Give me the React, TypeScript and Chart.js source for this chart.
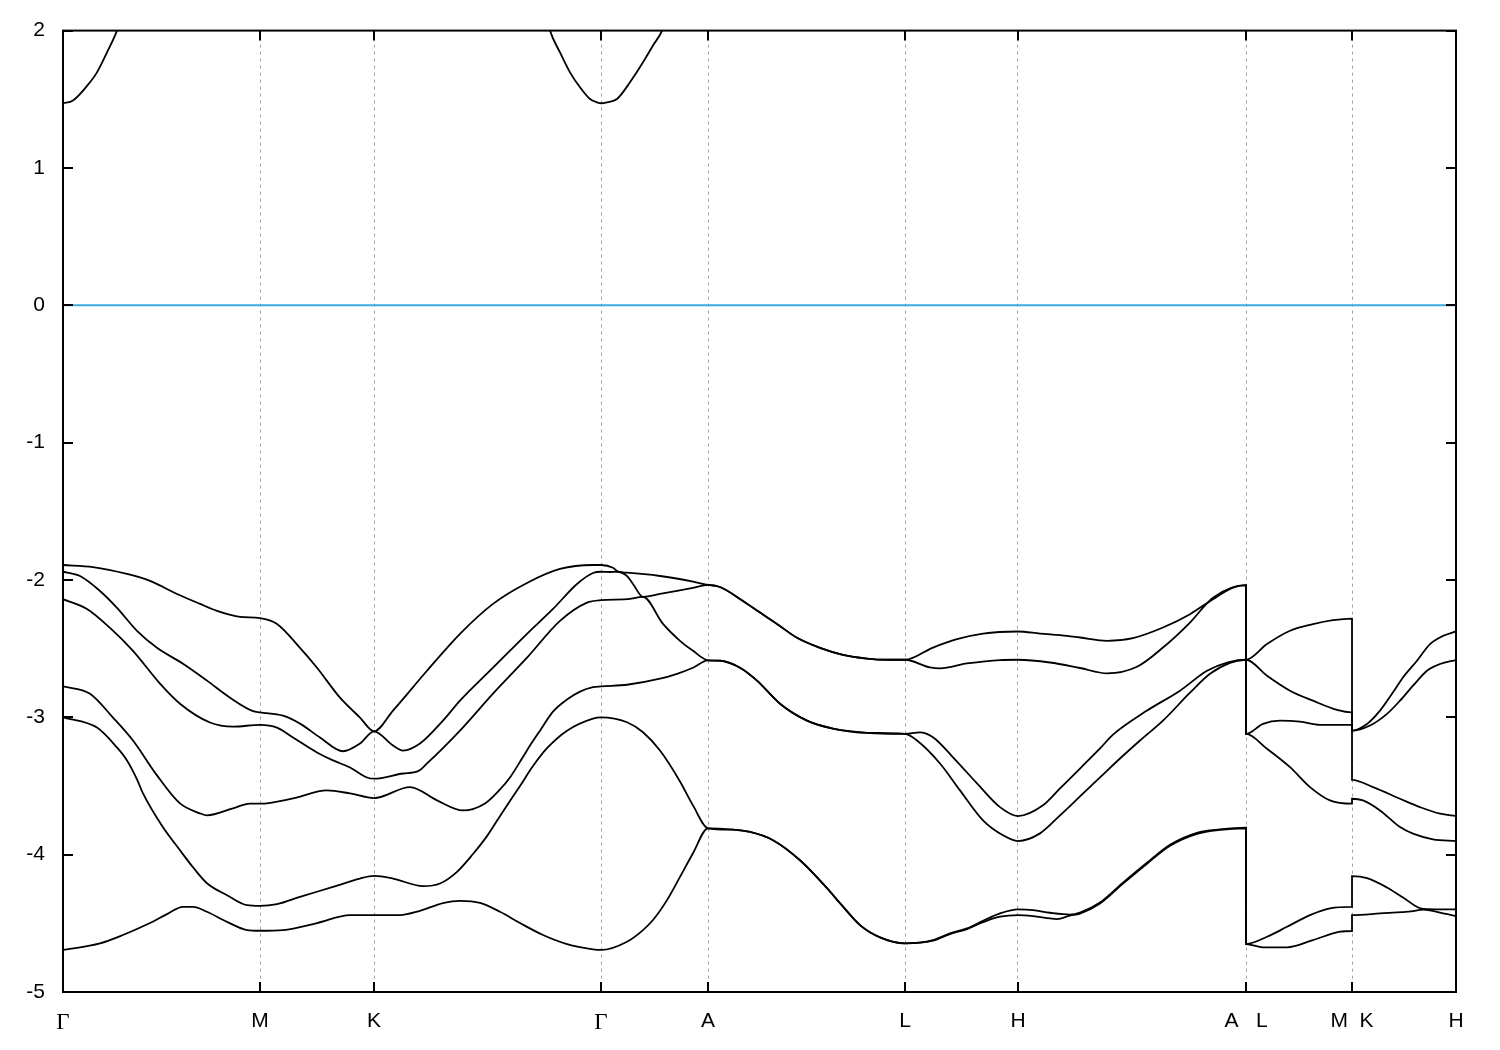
import React, { useEffect, useRef } from 'react';
import { Chart, registerables } from 'chart.js';

Chart.register(...registerables);

// High-symmetry points along the k-path (path distance units)
const kTicks = [0, 197, 311, 538, 645, 842, 955, 1183, 1289, 1393];
const kLabels = ['Γ', 'M', 'K', 'Γ', 'A', 'L', 'H', 'A   L', 'M  K', 'H'];

// Energy axis (eV)
const eMin = -5;
const eMax = 2;
const eStep = 1;

// Band 1 (lowest)
const b1K = [0, 37, 60, 87, 104, 120, 130, 144, 164, 184, 197,
  220, 254, 287, 311,
  337, 357, 380, 397, 417, 437, 457, 480, 504, 530, 538,
  564, 580, 590, 604, 617, 630, 645,
  670, 687, 710, 737, 764, 777, 797, 817, 842,
  870, 887, 904, 920, 937, 955,
  970, 987, 994, 1007, 1017, 1037, 1060, 1084, 1107, 1134, 1157, 1183,
  1183, 1200, 1224, 1250, 1277, 1289,
  1289, 1317, 1350, 1360, 1377, 1393];
const b1E = [-4.694, -4.646, -4.585, -4.498, -4.433, -4.380, -4.380, -4.416, -4.489, -4.549, -4.554,
  -4.549, -4.498, -4.440, -4.440,
  -4.440, -4.409, -4.353, -4.336, -4.351, -4.416, -4.498, -4.585, -4.651, -4.689, -4.694,
  -4.634, -4.549, -4.476, -4.331, -4.162, -3.990, -3.808,
  -3.818, -3.835, -3.895, -4.041, -4.244, -4.353, -4.513, -4.602, -4.646,
  -4.626, -4.578, -4.542, -4.492, -4.452, -4.440,
  -4.447, -4.464, -4.469, -4.444, -4.429, -4.356, -4.211, -4.066, -3.935, -3.848, -3.819, -3.808,
  -4.651, -4.675, -4.675, -4.622, -4.561, -4.556,
  -4.440, -4.428, -4.411, -4.400, -4.422, -4.447];

// Band 2
const b2K = [0, 34, 54, 64, 74, 80, 100, 117, 130, 144, 164, 184, 197,
  214, 237, 270, 297, 311,
  330, 360, 377, 394, 410, 424, 440, 457, 470, 484, 504, 530, 538,
  564, 580, 597, 617, 630, 645,
  670, 687, 710, 737, 764, 777, 797, 817, 842,
  870, 887, 904, 920, 937, 955,
  970, 987, 1007, 1017, 1037, 1060, 1084, 1107, 1134, 1157, 1183,
  1183, 1204, 1224, 1247, 1267, 1289,
  1289, 1304, 1324, 1340, 1360, 1393];
const b2E = [-3.000, -3.075, -3.220, -3.314, -3.452, -3.554, -3.801, -3.968, -4.092, -4.208, -4.295, -4.368, -4.373,
  -4.360, -4.307, -4.235, -4.174, -4.155,
  -4.174, -4.229, -4.210, -4.125, -3.995, -3.865, -3.685, -3.500, -3.355, -3.225, -3.097, -3.009, -3.000,
  -3.036, -3.109, -3.242, -3.467, -3.641, -3.808,
  -3.818, -3.835, -3.895, -4.041, -4.244, -4.353, -4.513, -4.602, -4.646,
  -4.622, -4.573, -4.537, -4.481, -4.428, -4.399,
  -4.404, -4.423, -4.436, -4.422, -4.349, -4.204, -4.059, -3.928, -3.841, -3.816, -3.803,
  -4.651, -4.598, -4.525, -4.440, -4.391, -4.380,
  -4.157, -4.171, -4.239, -4.312, -4.395, -4.399];

// Band 3
const b3K = [0, 27, 50, 70, 94, 117, 137, 144, 170, 187, 197,
  230, 264, 287, 311,
  347, 374, 400, 422, 437, 447, 459, 467, 477, 490, 504, 517, 530, 538,
  564, 597, 614, 630, 645,
  657, 677, 694, 717, 744, 770, 804, 842,
  854, 877, 897, 920, 940, 955,
  977, 997, 1017, 1037, 1057, 1077, 1100, 1127, 1147, 1167, 1183,
  1183, 1204, 1227, 1247, 1267, 1289,
  1289, 1300, 1317, 1337, 1350, 1370, 1393];
const b3E = [-2.775, -2.828, -3.002, -3.169, -3.423, -3.627, -3.699, -3.714, -3.663, -3.629, -3.629,
  -3.590, -3.532, -3.554, -3.588,
  -3.508, -3.605, -3.678, -3.627, -3.525, -3.438, -3.300, -3.206, -3.097, -2.959, -2.871, -2.813, -2.781, -2.775,
  -2.763, -2.719, -2.683, -2.639, -2.585,
  -2.588, -2.639, -2.733, -2.901, -3.024, -3.082, -3.113, -3.121,
  -3.169, -3.336, -3.532, -3.750, -3.859, -3.901,
  -3.845, -3.714, -3.576, -3.438, -3.300, -3.169, -3.024, -2.821, -2.683, -2.603, -2.581,
  -3.121, -3.229, -3.363, -3.508, -3.605, -3.629,
  -3.593, -3.605, -3.678, -3.799, -3.847, -3.888, -3.901];

// Band 4
const b4K = [0, 24, 47, 70, 97, 117, 147, 170, 197,
  214, 230, 254, 270, 287, 304, 311,
  340, 355, 364, 397, 430, 464, 497, 524, 538,
  564, 580, 600, 617, 630, 645,
  657, 677, 694, 717, 744, 770, 804, 842,
  857, 870, 890, 914, 937, 955,
  980, 997, 1017, 1037, 1050, 1084, 1117, 1144, 1164, 1183,
  1183, 1200, 1217, 1237, 1257, 1289,
  1289, 1310, 1337, 1357, 1377, 1393];
const b4E = [-2.140, -2.211, -2.349, -2.516, -2.755, -2.901, -3.038, -3.068, -3.055,
  -3.075, -3.147, -3.256, -3.314, -3.365, -3.438, -3.447,
  -3.409, -3.392, -3.336, -3.097, -2.828, -2.566, -2.298, -2.165, -2.147,
  -2.140, -2.123, -2.320, -2.443, -2.516, -2.585,
  -2.588, -2.639, -2.733, -2.901, -3.024, -3.082, -3.113, -3.121,
  -3.109, -3.145, -3.291, -3.481, -3.654, -3.719,
  -3.641, -3.518, -3.373, -3.227, -3.126, -2.951, -2.806, -2.661, -2.601, -2.581,
  -3.121, -3.048, -3.024, -3.031, -3.055, -3.055,
  -3.455, -3.508, -3.593, -3.654, -3.702, -3.719];

// Band 5
const b5K = [0, 17, 37, 54, 74, 94, 120, 144, 167, 190, 197,
  220, 237, 257, 280, 297, 311,
  330, 340, 357, 380, 397, 430, 464, 490, 514, 530, 538,
  547, 554, 564, 570, 580, 597, 614, 630, 645,
  657, 680, 690, 714, 734, 757, 780, 804, 824, 842,
  867, 877, 904, 937, 955,
  987, 1017, 1044, 1074, 1100, 1127, 1150, 1183,
  1183, 1204, 1227, 1250, 1274, 1289,
  1289, 1307, 1324, 1337, 1350, 1364, 1377, 1393];
const b5E = [-1.940, -1.971, -2.080, -2.203, -2.370, -2.494, -2.610, -2.733, -2.857, -2.955, -2.964,
  -2.988, -3.046, -3.147, -3.247, -3.191, -3.102,
  -3.206, -3.242, -3.191, -3.024, -2.879, -2.639, -2.392, -2.211, -2.029, -1.949, -1.940,
  -1.942, -1.940, -1.971, -2.029, -2.123, -2.102, -2.080, -2.058, -2.036,
  -2.051, -2.153, -2.203, -2.320, -2.421, -2.494, -2.545, -2.572, -2.581, -2.581,
  -2.637, -2.644, -2.608, -2.583, -2.581,
  -2.601, -2.641, -2.680, -2.632, -2.492, -2.310, -2.129, -2.038,
  -2.581, -2.697, -2.806, -2.879, -2.946, -2.964,
  -3.097, -3.060, -2.975, -2.879, -2.770, -2.661, -2.612, -2.583];

// Band 6 (highest valence)
const b6K = [0, 30, 64, 87, 114, 137, 154, 177, 197,
  214, 237, 254, 277, 297, 311,
  330, 364, 397, 430, 464, 497, 530, 538,
  550, 555, 564, 597, 630, 645,
  657, 680, 690, 714, 734, 757, 780, 804, 824, 842,
  870, 894, 920, 955,
  977, 1004, 1017, 1044, 1070, 1100, 1127, 1150, 1170, 1183,
  1183, 1204, 1227, 1250, 1270, 1289,
  1289, 1304, 1317, 1330, 1340, 1354, 1367, 1380, 1393];
const b6E = [-1.891, -1.906, -1.956, -2.007, -2.102, -2.174, -2.225, -2.269, -2.278,
  -2.320, -2.494, -2.639, -2.857, -3.002, -3.102,
  -2.951, -2.661, -2.392, -2.174, -2.022, -1.920, -1.891, -1.891,
  -1.911, -1.940, -1.947, -1.971, -2.012, -2.036,
  -2.051, -2.153, -2.203, -2.320, -2.421, -2.494, -2.545, -2.572, -2.581, -2.581,
  -2.492, -2.431, -2.390, -2.375,
  -2.390, -2.407, -2.419, -2.443, -2.423, -2.346, -2.249, -2.140, -2.056, -2.038,
  -2.581, -2.467, -2.370, -2.322, -2.293, -2.281,
  -3.097, -3.048, -2.951, -2.818, -2.710, -2.588, -2.467, -2.407, -2.375];

// Conduction band (leaves the plotted window above 2 eV)
const cbK = [0, 10, 27, 34, 44, 54, 70, 100, 197, 311, 440, 470, 487, 497, 507, 517, 527, 534, 538, 544, 554, 567, 580, 590, 599, 620, 645];
const cbE = [1.471, 1.491, 1.624, 1.696, 1.841, 2.0, 2.35, 2.9, 4.0, 4.2, 3.3, 2.5, 2.0, 1.841, 1.696, 1.587, 1.502, 1.478, 1.471, 1.478, 1.502, 1.624, 1.769, 1.892, 2.0, 2.5, 3.0];

// Fermi level
const fermiK = [0, 1393];
const fermiE = [0, 0];

const bandSeries: [number[], number[]][] = [
  [b1K, b1E], [b2K, b2E], [b3K, b3E], [b4K, b4E], [b5K, b5E], [b6K, b6E], [cbK, cbE],
];

const SANS = '"Liberation Sans", Arial, sans-serif';
const SERIF = '"Liberation Serif", "Times New Roman", serif';

const framePlugin = {
  id: 'gnuplotFrame',
  afterDraw(chart: any) {
    const { ctx, chartArea, scales } = chart;
    const { left, top, right, bottom } = chartArea;
    const x = scales.x;
    const y = scales.y;
    ctx.save();
    ctx.strokeStyle = '#000';
    ctx.lineWidth = 2;
    ctx.beginPath();
    y.ticks.forEach((t: any) => {
      const py = Math.round(y.getPixelForValue(t.value));
      ctx.moveTo(left, py);
      ctx.lineTo(left + 10, py);
      ctx.moveTo(right, py);
      ctx.lineTo(right - 10, py);
    });
    x.ticks.forEach((t: any) => {
      const px = Math.round(x.getPixelForValue(t.value));
      ctx.moveTo(px, top);
      ctx.lineTo(px, top + 10);
      ctx.moveTo(px, bottom);
      ctx.lineTo(px, bottom - 10);
    });
    ctx.stroke();
    ctx.strokeRect(left, top, right - left, bottom - top);
    ctx.restore();
  },
};

export default function App() {
  const canvasRef = useRef<HTMLCanvasElement | null>(null);

  useEffect(() => {
    const canvas = canvasRef.current;
    if (!canvas) return;

    const datasets: any[] = bandSeries.map(([ks, es]) => ({
      data: ks.map((k, i) => ({ x: k, y: es[i] })),
      showLine: true,
      borderColor: '#000000',
      borderWidth: 1.8,
      pointRadius: 0,
      cubicInterpolationMode: 'monotone',
      fill: false,
    }));
    datasets.push({
      data: fermiK.map((k, i) => ({ x: k, y: fermiE[i] })),
      showLine: true,
      borderColor: '#3ea8e0',
      borderWidth: 2,
      pointRadius: 0,
      fill: false,
    });

    const chart = new Chart(canvas, {
      type: 'scatter',
      data: { datasets },
      plugins: [framePlugin],
      options: {
        animation: false,
        responsive: false,
        maintainAspectRatio: false,
        layout: { padding: { left: 0, top: 28, right: 44, bottom: 0 } },
        plugins: { legend: { display: false }, tooltip: { enabled: false } },
        scales: {
          x: {
            type: 'linear',
            min: kTicks[0],
            max: kTicks[kTicks.length - 1],
            afterBuildTicks: (scale: any) => {
              scale.ticks = kTicks.map((v) => ({ value: v }));
            },
            afterFit: (scale: any) => {
              scale.height = 58;
            },
            grid: { color: '#a0a0a0', lineWidth: 1, drawTicks: false },
            border: { display: false, dash: [3, 4] },
            ticks: {
              autoSkip: false,
              maxRotation: 0,
              minRotation: 0,
              padding: 17,
              color: '#000',
              font: (ctx: any) => {
                const lbl = ctx.tick ? kLabels[kTicks.indexOf(ctx.tick.value)] : '';
                return lbl === 'Γ'
                  ? { family: SERIF, size: 23 }
                  : { family: SANS, size: 21 };
              },
              callback: (value: any) => {
                const i = kTicks.indexOf(Number(value));
                return i >= 0 ? kLabels[i] : '';
              },
            },
          },
          y: {
            min: eMin,
            max: eMax,
            afterFit: (scale: any) => {
              scale.width = 63;
            },
            grid: { display: false, drawTicks: false },
            border: { display: false },
            ticks: {
              stepSize: eStep,
              padding: 18,
              color: '#000',
              font: { family: SANS, size: 21 },
            },
          },
        },
      },
    } as any);

    return () => {
      chart.destroy();
    };
  }, []);

  return (
    <div style={{ position: 'absolute', left: 0, top: 0, width: 1500, height: 1050, background: '#fff' }}>
      <canvas ref={canvasRef} width={1500} height={1050} style={{ display: 'block', width: 1500, height: 1050 }} />
    </div>
  );
}
